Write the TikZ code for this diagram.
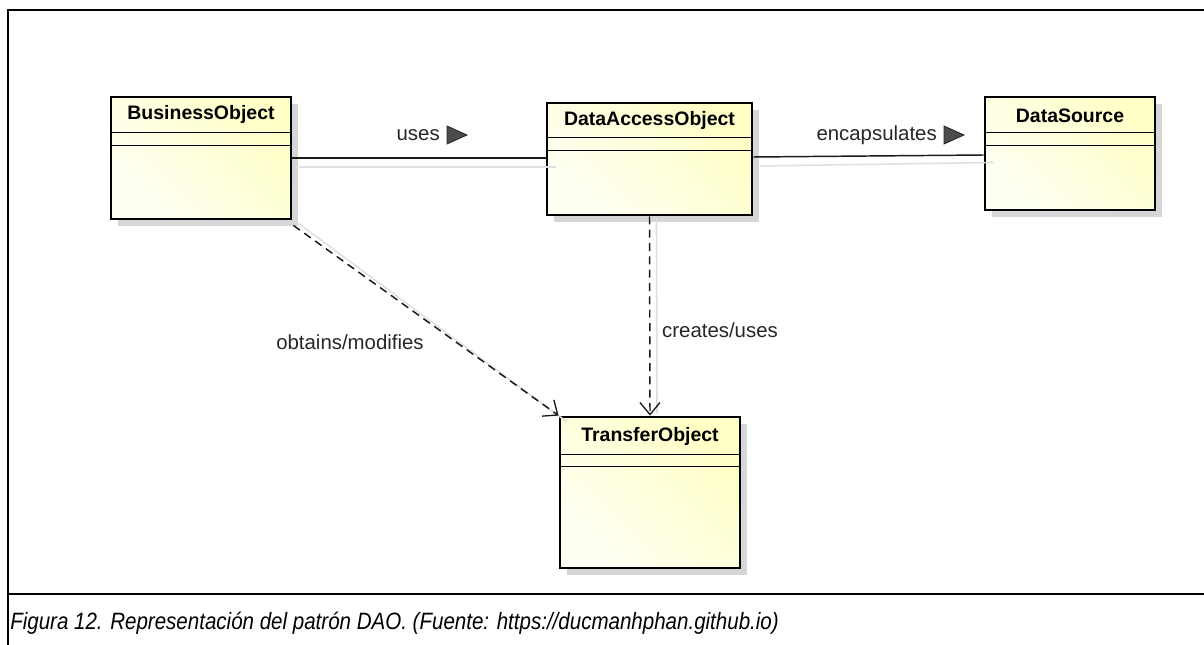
\documentclass[tikz,border=0pt]{standalone}
\usepackage{fontspec}
\setmainfont{Liberation Sans}
\usetikzlibrary{arrows.meta,calc,shadows}
\definecolor{clsA}{HTML}{FFFFF4}
\definecolor{clsB}{HTML}{FFFFC6}
\definecolor{shd}{HTML}{D6D6D6}
\begin{document}
\begin{tikzpicture}[x=0.75pt,y=-0.75pt,
  cls/.style={draw=black, line width=2.1pt, inner sep=0pt,
    left color=clsA, right color=clsB, shading angle=135,
    drop shadow={shadow xshift=5pt, shadow yshift=-5pt, fill=shd, opacity=1}},
  ttl/.style={font=\bfseries\fontsize{14.6}{16}\selectfont, inner sep=0pt},
  div/.style={line width=1pt},
  lbl/.style={font=\fontsize{15.3}{17}\selectfont, text=black!85, inner sep=0pt},
  conn/.style={line width=1.1pt, black!90},
  dep/.style={line width=1.1pt, black!90, dashed, dash pattern=on 6pt off 4pt,
    -{Straight Barb[length=9pt,width=15pt,line width=1pt]}},
  ghost/.style={line width=1.2pt, black!12},
  tri/.style={fill=black!70, draw=black!85, line width=0.6pt},
  frame/.style={line width=1.6pt, black}]
\useasboundingbox (0,0) rectangle (1204,645);
% frame
\draw[frame] (8,645) -- (8,10) -- (1204,10);
\draw[frame] (8,594) -- (1204,594);
% classes
\node[cls, minimum width=135pt, minimum height=91.5pt] (bo) at (201,158) {};
\node[cls, minimum width=153.75pt, minimum height=84pt] (dao) at (649.5,159) {};
\node[cls, minimum width=127.5pt, minimum height=84.75pt] (ds) at (1070,153.5) {};
\node[cls, minimum width=135pt, minimum height=113.25pt] (to) at (650,492.5) {};
% titles
\node[ttl] (bot) at ($(bo.north)+(0,19)$) {BusinessObject};
\node[ttl] (daot) at ($(dao.north)+(0,19)$) {DataAccessObject};
\node[ttl] (dst) at ($(ds.north)+(0,20)$) {DataSource};
\node[ttl] (tot) at ($(to.north)+(0,21)$) {TransferObject};
% dividers
\foreach \n/\a/\b in {bo/37/50, dao/36/49, ds/37/50, to/39/51}{
  \draw[div] ($(\n.north west)+(0,\a)$) -- ($(\n.north east)+(0,\a)$);
  \draw[div] ($(\n.north west)+(0,\b)$) -- ($(\n.north east)+(0,\b)$);
}
% connector shadows
\draw[ghost] ($(bo.east)+(7,9)$) -- ($(bo.east -| dao.west)+(10,9)$);
\draw[ghost] ($(dao.east)+(7,7)$) -- ($(ds.west)+(10,9)$);
\draw[ghost] ($(bo.south east)+(6,3)$) -- ($(to.north west)+(8,6)$);
\draw[ghost] ($(dao.south)+(7,2)$) -- ($(to.north)+(7,-2)$);
% connectors
\draw[conn] (bo.east) -- (bo.east -| dao.west);
\draw[conn] ($(dao.east)+(0,-2)$) -- ($(ds.west)+(0,1.5)$);
\draw[dep] ($(bo.south east)+(1,5)$) -- (to.north west);
\draw[dep] (dao.south) -- (to.north);
% labels
\node[lbl, anchor=east] (usesl) at (440,135) {uses};
\fill[tri] ($(usesl.east)+(7,-9)$) -- ++(0,18) -- ++(20,-9) -- cycle;
\node[lbl, anchor=east] (encl) at (937,135) {encapsulates};
\fill[tri] ($(encl.east)+(7,-9)$) -- ++(0,18) -- ++(20,-9) -- cycle;
\node[lbl] (obl) at (350,342) {obtains/modifies};
\node[lbl] (crl) at (720,330) {creates/uses};
% caption
\node[anchor=base west, inner sep=0pt, font=\itshape\fontsize{15.4}{18}\selectfont] (cap) at (10,629)
  {\scalebox{1}[1.15]{Figura 12. Representación del patrón DAO. (Fuente: https://ducmanhphan.github.io)}};
\end{tikzpicture}
\end{document}
